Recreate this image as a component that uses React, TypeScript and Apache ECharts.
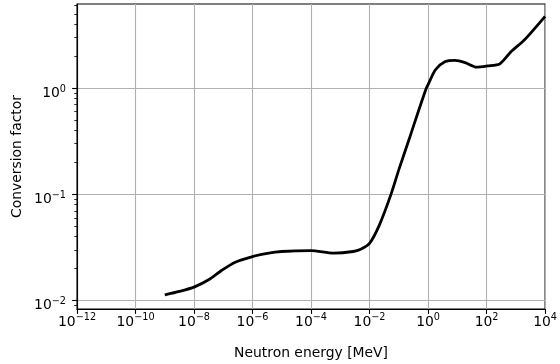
import React, { useEffect, useRef } from "react";
import * as echarts from "echarts";

const energyMeV = [
  1e-9, 3.16e-9, 1e-8, 3.16e-8, 8.7e-8, 2.45e-7, 1e-6, 3.2e-6, 1e-5, 1e-4,
  5.9e-4, 2.75e-3, 5e-3, 1e-2, 2.2e-2, 5.4e-2, 0.103, 0.225, 0.489, 0.87, 1.0,
  1.79, 3.89, 8.47, 18.5, 45.7, 107, 282, 692, 1950, 1e4,
];
const conversionFactor = [
  0.0113, 0.0122, 0.0134, 0.0157, 0.0192, 0.0229, 0.026, 0.0279, 0.029, 0.0295,
  0.028, 0.029, 0.0305, 0.0346, 0.052, 0.1, 0.175, 0.33, 0.63, 1.0, 1.08,
  1.49, 1.78, 1.83, 1.74, 1.58, 1.62, 1.69, 2.21, 2.84, 4.75,
];
const xTicks = [1e-12, 1e-10, 1e-8, 1e-6, 1e-4, 1e-2, 1, 1e2, 1e4];
const yTicks = [0.01, 0.1, 1];
const yMinorTicks = [
  0.009, 0.02, 0.03, 0.04, 0.05, 0.06, 0.07, 0.08, 0.09,
  0.2, 0.3, 0.4, 0.5, 0.6, 0.7, 0.8, 0.9, 2, 3, 4, 5, 6,
];
const xName = "Neutron energy [MeV]";
const yName = "Conversion factor";

const FONT = "DejaVu Sans";

function powLabel(val: number) {
  const e = Math.round(Math.log10(val));
  const s = e < 0 ? "\u2212" + String(-e) : String(e);
  return `{b|10}{s|${s}}`;
}

export default function App() {
  const ref = useRef<HTMLDivElement>(null);
  useEffect(() => {
    if (!ref.current) return;
    const chart = echarts.init(ref.current, null, { renderer: "svg" });
    const data = energyMeV.map((e, i) => [e, conversionFactor[i]]);
    chart.setOption({
      animation: false,
      grid: {
        left: 77,
        right: 9,
        top: 4,
        bottom: 53,
        show: true,
        borderColor: "#000",
        borderWidth: 1.1,
        backgroundColor: "transparent",
      },
      xAxis: {
        type: "log",
        min: 1e-12,
        max: 1e4,
        name: xName,
        nameLocation: "middle",
        nameGap: 36,
        nameTextStyle: { fontFamily: FONT, fontSize: 13.9, color: "#000" },
        axisLine: { show: true, lineStyle: { color: "#000", width: 1.1 } },
        axisTick: {
          show: true,
          length: 4.9,
          customValues: xTicks,
          lineStyle: { color: "#000", width: 1.1 },
        },
        axisLabel: {
          customValues: xTicks,
          margin: 2,
          formatter: powLabel,
          color: "#000",
          fontFamily: FONT,
          rich: {
            b: { fontFamily: FONT, fontSize: 13.9, lineHeight: 19, color: "#000" },
            s: { fontFamily: FONT, fontSize: 9.7, lineHeight: 10, verticalAlign: "top", color: "#000" },
          },
        },
        splitLine: { show: true, lineStyle: { color: "#b0b0b0", width: 1.1 } },
        minorTick: { show: false },
      },
      yAxis: [
        {
          type: "log",
          min: 0.00834,
          max: 6.2,
          name: yName,
          nameLocation: "middle",
          nameGap: 54,
          nameTextStyle: { fontFamily: FONT, fontSize: 13.9, color: "#000" },
          axisLine: { show: true, lineStyle: { color: "#000", width: 1.1 } },
          axisTick: {
            show: true,
            length: 4.9,
            customValues: yTicks,
            lineStyle: { color: "#000", width: 1.1 },
          },
          axisLabel: {
            customValues: yTicks,
            margin: 11,
            formatter: powLabel,
            color: "#000",
            fontFamily: FONT,
            rich: {
              b: { fontFamily: FONT, fontSize: 13.9, lineHeight: 14, verticalAlign: "bottom", color: "#000" },
              s: { fontFamily: FONT, fontSize: 9.7, lineHeight: 21.6, color: "#000" },
            },
          },
          splitLine: { show: true, lineStyle: { color: "#b0b0b0", width: 1.1 } },
        },
        {
          type: "log",
          min: 0.00834,
          max: 6.2,
          position: "left",
          axisLine: { show: false },
          axisTick: {
            show: true,
            length: 2.8,
            customValues: yMinorTicks,
            lineStyle: { color: "#000", width: 0.8 },
          },
          axisLabel: { show: false },
          splitLine: { show: false },
        },
      ],
      series: [
        {
          type: "line",
          data,
          yAxisIndex: 0,
          showSymbol: false,
          symbol: "none",
          smooth: 0.25,
          lineStyle: { color: "#000", width: 2.8 },
          clip: true,
        },
      ],
    });
    return () => chart.dispose();
  }, []);
  return (
    <div
      ref={ref}
      style={{ position: "fixed", left: 0, top: 0, width: 560, height: 364 }}
    />
  );
}
